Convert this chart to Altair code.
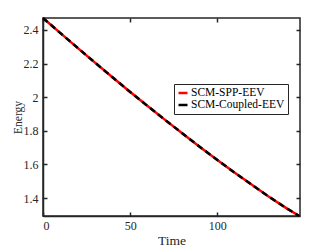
import altair as alt
import pandas as pd

time = [0, 10, 20, 30, 40, 50, 60, 70, 80, 90, 100, 110, 120, 130, 140, 147]
energy_spp = [2.471, 2.381, 2.292, 2.204, 2.117, 2.031, 1.947, 1.865, 1.784, 1.704,
              1.626, 1.550, 1.477, 1.405, 1.337, 1.293]
energy_coupled = [2.471, 2.381, 2.292, 2.204, 2.117, 2.031, 1.947, 1.865, 1.784, 1.704,
                  1.626, 1.550, 1.477, 1.405, 1.337, 1.293]
series_names = ["SCM-SPP-EEV", "SCM-Coupled-EEV"]
series_colors = ["#ff0000", "#000000"]
x_ticks = [0, 50, 100]
y_ticks = [1.4, 1.6, 1.8, 2.0, 2.2, 2.4]

df = pd.concat([
    pd.DataFrame({"t": time, "E": energy_spp, "series": series_names[0]}),
    pd.DataFrame({"t": time, "E": energy_coupled, "series": series_names[1]}),
])

FONT = "Liberation Serif"
AX = "#262626"
xscale = alt.Scale(domain=[0, 147.4], nice=False, zero=False)
yscale = alt.Scale(domain=[1.293, 2.471], nice=False, zero=False)
cscale = alt.Scale(domain=series_names, range=series_colors)

legend = alt.Legend(
    title=None, orient="none", legendX=131, legendY=66,
    symbolType="stroke", symbolSize=81, symbolStrokeWidth=2.5,
    labelFontSize=11.5, labelColor="black", labelOffset=2,
    rowPadding=0, padding=3, strokeColor="#262626", fillColor="white",
    cornerRadius=0, symbolOffset=0,
)

def axis_main(orient, title_size, fmt=None):
    kw = dict(orient=orient, values=x_ticks if orient == "bottom" else y_ticks,
              tickSize=0, labelFontSize=12, labelColor=AX,
              titleFontSize=title_size, titleFontWeight="normal", titleColor=AX,
              domainColor=AX, domainWidth=1.5, grid=False,
              labelPadding=4 if orient == "bottom" else 5,
              titlePadding=2 if orient == "bottom" else 0)
    if fmt:
        kw["format"] = fmt
    return alt.Axis(**kw)

def axis_ticks(orient, vals):
    return alt.Axis(orient=orient, values=vals, labels=False, title=None,
                    domain=False, tickSize=4, offset=-4, tickColor=AX,
                    tickWidth=1.5, grid=False)

red = alt.Chart(df).transform_filter(
    alt.datum.series == series_names[0]
).mark_line(strokeWidth=2.5).encode(
    x=alt.X("t:Q", scale=xscale, axis=axis_main("bottom", 13.5), title="Time"),
    y=alt.Y("E:Q", scale=yscale, axis=axis_main("left", 11.5, "~g"), title="Energy"),
    color=alt.Color("series:N", scale=cscale, legend=legend, sort=series_names),
)

black = alt.Chart(df).transform_filter(
    alt.datum.series == series_names[1]
).mark_line(strokeWidth=2.5, strokeDash=[6, 4]).encode(
    x=alt.X("t:Q", scale=xscale, axis=axis_ticks("top", x_ticks)),
    y=alt.Y("E:Q", scale=yscale, axis=axis_ticks("right", y_ticks)),
    color=alt.Color("series:N", scale=cscale, legend=legend, sort=series_names),
)

ghost = alt.Chart(df).transform_filter(
    alt.datum.series == series_names[1]
).mark_line(opacity=0).encode(
    x=alt.X("t:Q", scale=xscale, axis=axis_ticks("bottom", x_ticks)),
    y=alt.Y("E:Q", scale=yscale, axis=axis_ticks("left", y_ticks)),
)

chart = alt.layer(red, black, ghost).resolve_axis(
    x="independent", y="independent"
).properties(
    width=257, height=198,
    autosize=alt.AutoSizeParams(type="none"),
    padding={"left": 35, "top": 10, "right": 24, "bottom": 40},
    background="white",
).configure(font=FONT).configure_axis(
    labelFont=FONT, titleFont=FONT
).configure_legend(
    labelFont=FONT
).configure_view(stroke=AX, strokeWidth=1.5)

chart.save("out.html", embed_options={"renderer": "svg", "actions": False})
